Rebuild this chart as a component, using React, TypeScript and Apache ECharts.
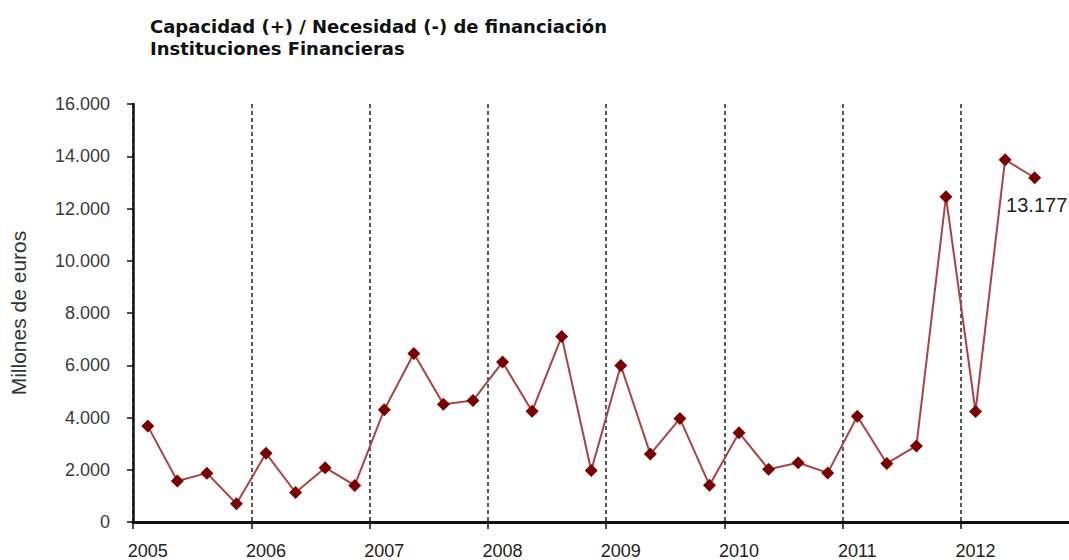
import React, { useEffect, useRef } from "react";
import * as echarts from "echarts";

const years = ["2005", "2006", "2007", "2008", "2009", "2010", "2011", "2012"];
const quarters = ["T1", "T2", "T3", "T4"];
const categories = years.flatMap((y) => quarters.map((q) => `${y}-${q}`));

// Millones de euros, trimestral (2005-T1 .. 2012-T3)
const values = [
  3670, 1570, 1870, 700,
  2630, 1130, 2080, 1400,
  4300, 6450, 4510, 4650,
  6120, 4240, 7100, 1970,
  5990, 2600, 3960, 1410,
  3420, 2020, 2270, 1880,
  4050, 2240, 2910, 12450,
  4230, 13870, 13177,
];

const titleText = "Capacidad (+) / Necesidad (-) de financiación\nInstituciones Financieras";
const yAxisName = "Millones de euros";

const fmt = (v: number) => {
  const s = String(Math.round(v));
  return s.replace(/\B(?=(\d{3})+(?!\d))/g, ".");
};

const SANS = "Liberation Sans, Arial, sans-serif";
const NARROW = "Liberation Sans Narrow, Arial Narrow, Liberation Sans, sans-serif";

export default function App() {
  const ref = useRef<HTMLDivElement>(null);
  useEffect(() => {
    document.body.style.margin = "0";
    if (!ref.current) return;
    const chart = echarts.init(ref.current, null, { renderer: "svg" });
    const last = values.length - 1;
    chart.setOption({
      animation: false,
      backgroundColor: "#ffffff",
      textStyle: { fontFamily: SANS },
      title: {
        text: titleText,
        left: 150,
        top: 15,
        padding: 0,
        textStyle: {
          fontSize: 18,
          fontWeight: "bold",
          color: "#111",
          lineHeight: 22,
          fontFamily: "DejaVu Sans, Liberation Sans, sans-serif",
        },
      },
      grid: { left: 133, right: 0, top: 104, bottom: 36, containLabel: false },
      xAxis: {
        type: "category",
        data: categories,
        boundaryGap: true,
        axisLine: { show: true, lineStyle: { color: "#111", width: 3 } },
        axisTick: { show: true, interval: 3, length: 7, lineStyle: { color: "#111", width: 1.5 } },
        axisLabel: {
          interval: 3,
          margin: 20,
          fontSize: 18,
          color: "#222",
          fontFamily: SANS,
          formatter: (v: string) => v.split("-")[0],
        },
        splitLine: {
          show: true,
          interval: 3,
          lineStyle: { color: "#222", width: 1.5, type: [4, 3] },
        },
      },
      yAxis: {
        type: "value",
        min: 0,
        max: 16000,
        interval: 2000,
        name: yAxisName,
        nameLocation: "middle",
        nameGap: 104,
        nameTextStyle: { fontSize: 21, color: "#333", fontFamily: SANS },
        axisLine: { show: true, lineStyle: { color: "#111", width: 2.5 } },
        axisTick: { show: true, length: 6, lineStyle: { color: "#111", width: 1.5 } },
        axisLabel: {
          margin: 23,
          fontSize: 18,
          color: "#3a3a3a",
          fontFamily: NARROW,
          formatter: (v: number) => fmt(v),
        },
        splitLine: { show: false },
      },
      series: [
        {
          type: "line",
          data: values.map((v, i) =>
            i === last
              ? {
                  value: v,
                  label: {
                    show: true,
                    position: "bottom",
                    distance: 11,
                    offset: [2, 0],
                    fontSize: 20,
                    color: "#222",
                    fontFamily: SANS,
                    formatter: (p: any) => fmt(p.value),
                  },
                }
              : v
          ),
          symbol: "diamond",
          symbolSize: [13, 13],
          lineStyle: { color: "#a84444", width: 2 },
          itemStyle: { color: "#7a0000" },
          z: 3,
        },
      ],
    });
    return () => chart.dispose();
  }, []);
  return (
    <div style={{ width: 1069, height: 560, overflow: "hidden", position: "relative" }}>
      <div ref={ref} style={{ width: 1079, height: 560 }} />
    </div>
  );
}
